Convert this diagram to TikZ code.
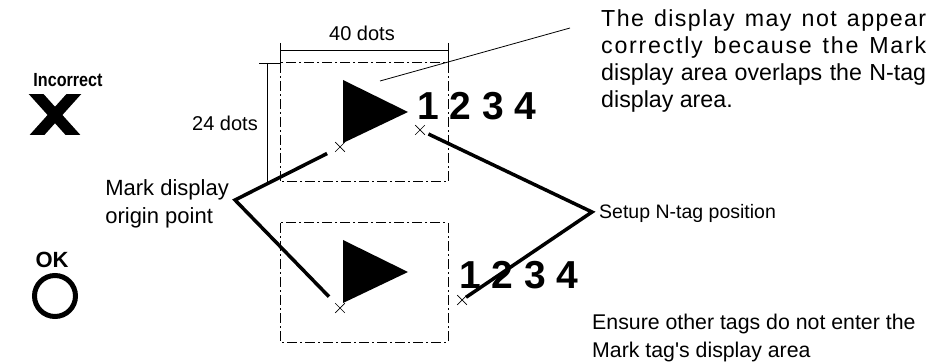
\documentclass[tikz,border=0pt]{standalone}
\usepackage{fontspec}
\setmainfont{Liberation Sans}
\usetikzlibrary{positioning,shapes.misc}

\tikzset{
  boxline/.style={line width=1pt, dash pattern=on 10pt off 3pt on 2pt off 3pt},
  dimline/.style={line width=0.9pt},
  leader/.style={line width=3.5pt, line join=miter},
  xmark/.style={cross out, draw, line width=0.7pt, minimum size=9pt, inner sep=0pt},
  pixlabel/.style={font=\fontsize{20}{28}\selectfont, inner sep=0pt},
  tagnums/.style={font=\fontsize{39}{39}\selectfont\bfseries, inner sep=0pt},
}

\begin{document}
\begin{tikzpicture}[x=1pt,y=-1pt]
  \useasboundingbox (0,0) rectangle (931,363);
  % Incorrect / OK
  \node[font=\fontsize{19}{19}\selectfont\bfseries, inner sep=0pt] (badlbl) at (68,80) {\scalebox{0.85}[1]{Incorrect}};
  \begin{scope}
    \clip (20,95) rectangle (90,135);
    \draw[line width=11pt, shorten <=-8pt, shorten >=-8pt] (37,95) -- (73,135);
    \draw[line width=11pt, shorten <=-8pt, shorten >=-8pt] (73,95) -- (37,135);
  \end{scope}
  \node[font=\fontsize{22}{22}\selectfont\bfseries, inner sep=0pt] (oklbl) at (52,260) {OK};
  \draw[line width=5pt] (55,296) circle (20.5pt);
  % upper mark area
  \draw[boxline] (280,63) rectangle (448,182);
  \fill (343,80) -- (408,112) -- (343,143) -- cycle;
  \node[tagnums, anchor=base west] (tags1) at (417,120) {1 2 3 4};
  \node[xmark] (mk1) at (340,147) {};
  \node[xmark] (nt1) at (420,130) {};
  % dimensions
  \draw[dimline] (280,43) -- (280,63);
  \draw[dimline] (448,43) -- (448,63);
  \draw[dimline] (280,50) -- (448,50);
  \draw[dimline] (259,63) -- (280,63);
  \draw[dimline] (267,63) -- (267,182);
  \node[pixlabel] (wlbl) at (362,33) {40 dots};
  \node[pixlabel] (hlbl) at (225,123) {24 dots};
  % lower mark area
  \draw[boxline] (280,223) rectangle (448,342);
  \fill (343,240) -- (408,272) -- (343,303) -- cycle;
  \node[tagnums, anchor=base west] (tags2) at (459,288) {1 2 3 4};
  \node[xmark] (mk2) at (340,308) {};
  \node[xmark] (nt2) at (462,300) {};
  % origin point leaders
  \coordinate (morig) at (235,200);
  \node[pixlabel, font=\fontsize{22}{28}\selectfont, align=left, anchor=east] (origlbl) at (229,204) {Mark display\\origin point};
  \draw[leader, shorten <=9pt, shorten >=9pt] (mk1) -- (morig) -- (mk2);
  % N-tag leaders
  \coordinate (ntag) at (592,212);
  \node[pixlabel, font=\fontsize{19.5}{28}\selectfont, anchor=west] (ntaglbl) at (599,213) {Setup N-tag position};
  \draw[leader, shorten <=4pt, shorten >=-1pt] (nt1) -- (ntag) -- (nt2);
  % note
  \coordinate (calloutA) at (380,81);
  \coordinate (calloutB) at (570,28);
  \draw[line width=0.8pt] (calloutA) -- (calloutB);
  \node[font=\fontsize{23.2}{27}\selectfont, text width=325pt, align=justify, inner sep=0pt, anchor=base west] (note) at (601,27)
    {{\addfontfeature{LetterSpace=6}The display may not appear}\linebreak
     {\addfontfeature{LetterSpace=7.5}correctly because the Mark}\linebreak
     display area overlaps the N-tag\linebreak display area.};
  \node[pixlabel, font=\fontsize{21.3}{28}\selectfont, align=left, anchor=north west] (ensurelbl) at (592,314) {Ensure other tags do not enter the\\Mark tag\textquotesingle s display area};
\end{tikzpicture}
\end{document}
